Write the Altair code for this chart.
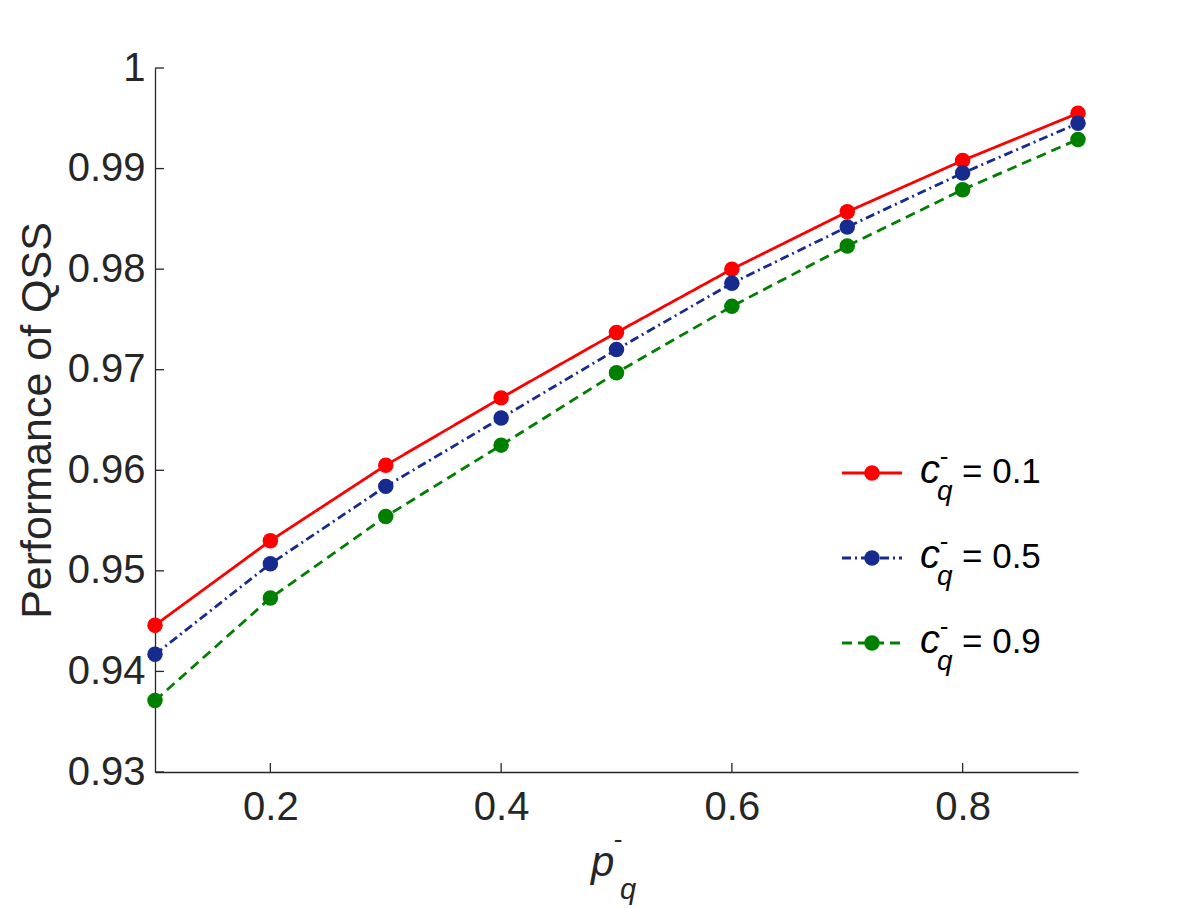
import altair as alt
import pandas as pd

p_values = [0.1, 0.2, 0.3, 0.4, 0.5, 0.6, 0.7, 0.8, 0.9]
c01 = [0.9446, 0.9530, 0.9605, 0.9672, 0.9737, 0.9800, 0.9857, 0.9908, 0.9955]
c05 = [0.9417, 0.9507, 0.9584, 0.9652, 0.9720, 0.9786, 0.9842, 0.98955, 0.9945]
c09 = [0.9371, 0.9473, 0.9554, 0.9625, 0.9697, 0.9763, 0.9823, 0.9879, 0.9929]
series_labels = ["= 0.1", "= 0.5", "= 0.9"]
series_colors = ["#ff0000", "#172b8f", "#007f00"]
series_dashes = [[1, 0], [9, 4, 2, 4], [10, 6]]
x_ticks = [0.2, 0.4, 0.6, 0.8]
y_ticks = [0.93, 0.94, 0.95, 0.96, 0.97, 0.98, 0.99, 1.0]

W, H = 923, 704
FONT = "Liberation Sans"
AX = "#262626"

xs = alt.Scale(domain=[0.1, 0.9], nice=False, zero=False)
ys = alt.Scale(domain=[0.93, 1.0], nice=False, zero=False)

layers = []

# axes base (domain lines + labels)
base_df = pd.DataFrame({"p": p_values, "v": c01})
axes_layer = alt.Chart(base_df).mark_point(opacity=0).encode(
    x=alt.X("p:Q", scale=xs,
            axis=alt.Axis(values=x_ticks, format=".1~f", ticks=False, grid=False,
                          labelFontSize=40, labelFont=FONT, labelColor=AX,
                          labelPadding=15, domainColor=AX, domainWidth=1.3,
                          title=None)),
    y=alt.Y("v:Q", scale=ys,
            axis=alt.Axis(values=y_ticks, format=".2~f", ticks=False, grid=False,
                          labelFontSize=40, labelFont=FONT, labelColor=AX,
                          labelPadding=10, domainColor=AX, domainWidth=1.3,
                          title="Performance of QSS", titleFont=FONT,
                          titleFontSize=43, titleFontWeight="normal",
                          titleColor=AX, titleAngle=-90, titleX=-105,
                          titleY=H / 2, titleAlign="center",
                          titleBaseline="alphabetic")),
)
layers.append(axes_layer)

# inward tick marks
xt_df = pd.DataFrame({"t": x_ticks})
layers.append(alt.Chart(xt_df).mark_rule(color=AX, strokeWidth=1.3).encode(
    x=alt.X("t:Q", scale=xs), y=alt.value(H), y2=alt.value(H - 9)))
yt_df = pd.DataFrame({"t": y_ticks})
layers.append(alt.Chart(yt_df).mark_rule(color=AX, strokeWidth=1.3).encode(
    y=alt.Y("t:Q", scale=ys), x=alt.value(0), x2=alt.value(9)))

# data series
for vals, col, dash in zip([c01, c05, c09], series_colors, series_dashes):
    df = pd.DataFrame({"p": p_values, "v": vals})
    layers.append(alt.Chart(df).mark_line(color=col, strokeWidth=2.8, strokeDash=dash).encode(
        x=alt.X("p:Q", scale=xs), y=alt.Y("v:Q", scale=ys)))
    layers.append(alt.Chart(df).mark_point(color=col, filled=True, shape="circle",
                                           size=240, opacity=1).encode(
        x=alt.X("p:Q", scale=xs), y=alt.Y("v:Q", scale=ys)))

# legend
one = pd.DataFrame({"k": [0]})
legend_rows = [405, 490, 575]
for row, lab, col, dash in zip(legend_rows, series_labels, series_colors, series_dashes):
    layers.append(alt.Chart(one).mark_rule(color=col, strokeWidth=2.8, strokeDash=dash).encode(
        x=alt.value(687), x2=alt.value(747), y=alt.value(row)))
    layers.append(alt.Chart(one).mark_point(color=col, filled=True, shape="circle",
                                            size=240, opacity=1).encode(
        x=alt.value(717), y=alt.value(row)))
    layers.append(alt.Chart(one).mark_text(text="c", font=FONT, fontSize=40, fontStyle="italic",
                                           align="left", baseline="alphabetic", color="#000000").encode(
        x=alt.value(765), y=alt.value(row + 10)))
    layers.append(alt.Chart(one).mark_text(text="-", font=FONT, fontSize=26,
                                           align="center", baseline="middle", color="#000000").encode(
        x=alt.value(789), y=alt.value(row - 16)))
    layers.append(alt.Chart(one).mark_text(text="q", font=FONT, fontSize=28, fontStyle="italic",
                                           align="left", baseline="alphabetic", color="#000000").encode(
        x=alt.value(782), y=alt.value(row + 27)))
    layers.append(alt.Chart(one).mark_text(text=lab, font=FONT, fontSize=35,
                                           align="left", baseline="alphabetic", color="#000000").encode(
        x=alt.value(807), y=alt.value(row + 10)))

# x axis title: p with bar and subscript q
layers.append(alt.Chart(one).mark_text(text="p", font=FONT, fontSize=42, fontStyle="italic",
                                       align="left", baseline="alphabetic", color=AX).encode(
    x=alt.value(436), y=alt.value(808)))
layers.append(alt.Chart(one).mark_text(text="-", font=FONT, fontSize=26,
                                       align="center", baseline="middle", color=AX).encode(
    x=alt.value(463), y=alt.value(772)))
layers.append(alt.Chart(one).mark_text(text="q", font=FONT, fontSize=29, fontStyle="italic",
                                       align="left", baseline="alphabetic", color=AX).encode(
    x=alt.value(465), y=alt.value(831)))

chart = alt.layer(*layers).properties(
    width=W, height=H,
    autosize=alt.AutoSizeParams(type="none"),
    padding={"left": 147, "top": 60, "right": 100, "bottom": 136},
    background="white",
).configure_view(strokeWidth=0)

chart.save("out.html", embed_options={"renderer": "svg", "actions": False})
